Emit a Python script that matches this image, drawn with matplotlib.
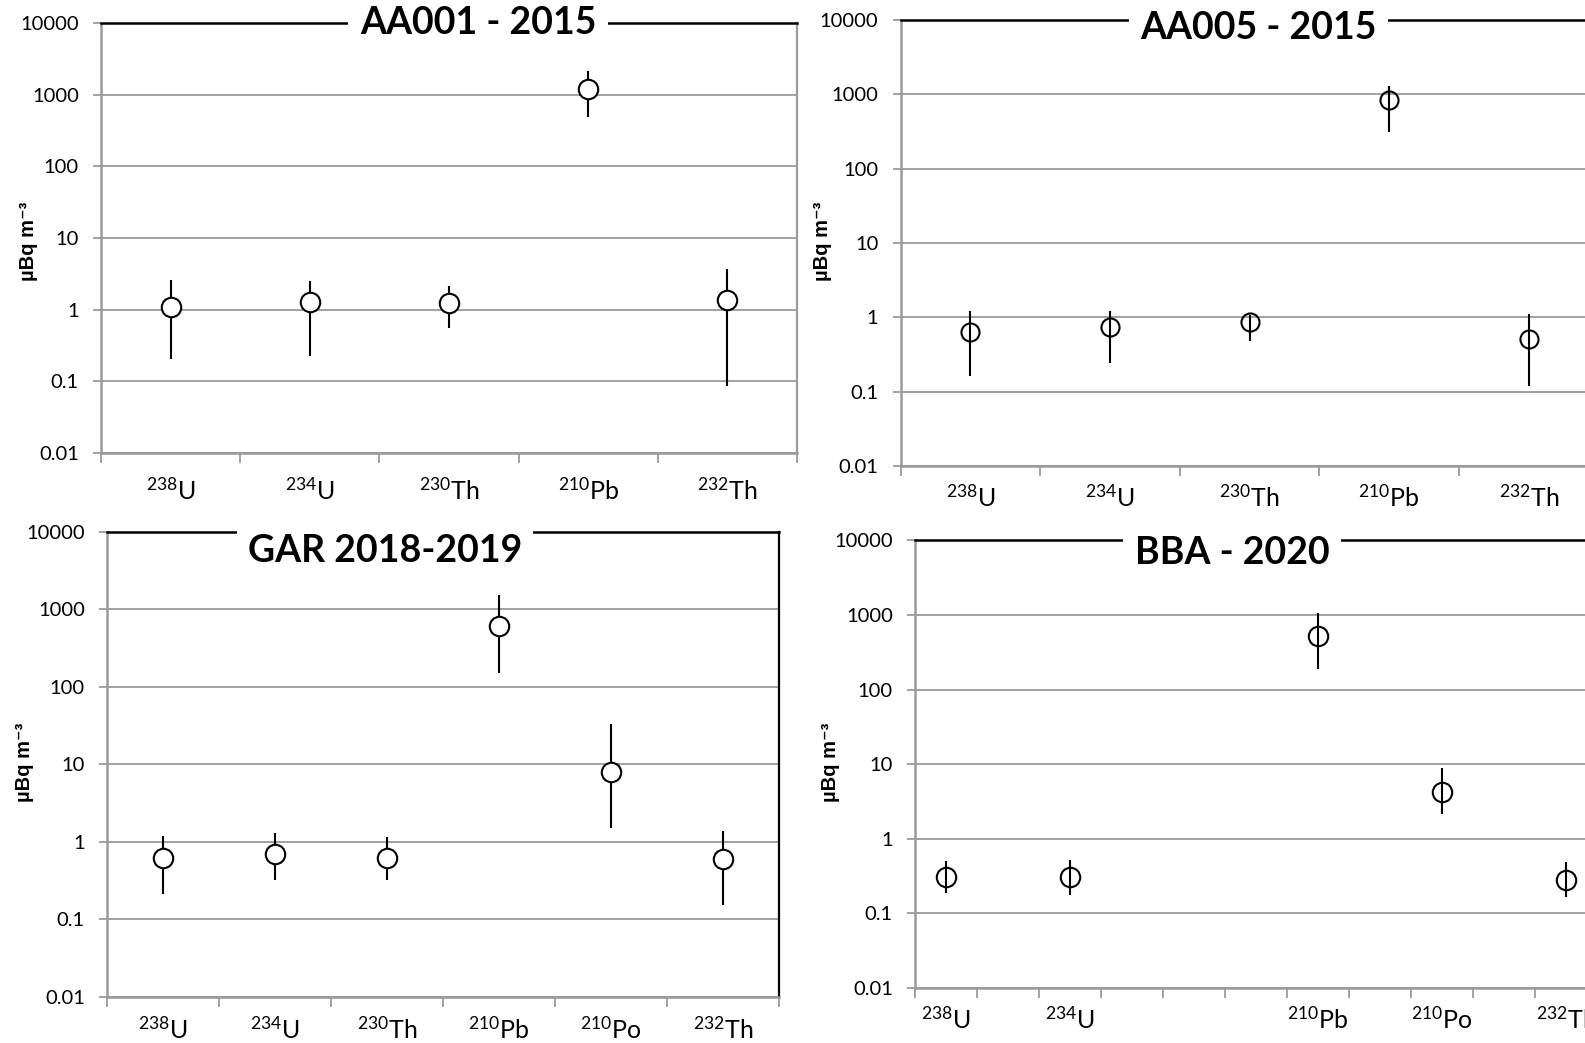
import numpy as np
import matplotlib
matplotlib.use('Agg')
import matplotlib.pyplot as plt

plt.rcParams['font.family'] = ['Lato', 'DejaVu Sans']
plt.rcParams['mathtext.fontset'] = 'custom'
plt.rcParams['mathtext.rm'] = 'Lato'
plt.rcParams['mathtext.it'] = 'Lato:italic'
plt.rcParams['mathtext.bf'] = 'Lato:bold'

nan = np.nan

# ---------------- data ----------------
y_ticks = [0.01, 0.1, 1, 10, 100, 1000, 10000]
y_ticklabels = ['0.01', '0.1', '1', '10', '100', '1000', '10000']
ylabel_text = 'µBq m⁻³'

aa001_title = 'AA001 - 2015'
aa001_labels = [r'$^{238}$U', r'$^{234}$U', r'$^{230}$Th', r'$^{210}$Pb', r'$^{232}$Th']
aa001_val = [1.10, 1.29, 1.23, 1188, 1.36]
aa001_lo = [0.205, 0.226, 0.56, 493, 0.086]
aa001_hi = [2.6, 2.55, 2.14, 2140, 3.66]

aa005_title = 'AA005 - 2015'
aa005_labels = [r'$^{238}$U', r'$^{234}$U', r'$^{230}$Th', r'$^{210}$Pb', r'$^{232}$Th']
aa005_val = [0.635, 0.74, 0.855, 839, 0.516]
aa005_lo = [0.165, 0.242, 0.484, 314, 0.12]
aa005_hi = [1.2, 1.2, 1.09, 1294, 1.10]

gar_title = 'GAR 2018-2019'
gar_labels = [r'$^{238}$U', r'$^{234}$U', r'$^{230}$Th', r'$^{210}$Pb', r'$^{210}$Po', r'$^{232}$Th']
gar_val = [0.618, 0.69, 0.618, 606, 8.02, 0.594]
gar_lo = [0.212, 0.316, 0.316, 149, 1.52, 0.152]
gar_hi = [1.20, 1.31, 1.14, 1538, 33.2, 1.38]

bba_title = 'BBA - 2020'
bba_labels = [r'$^{238}$U', '', r'$^{234}$U', '', '', '', r'$^{210}$Pb', '', r'$^{210}$Po', '', r'$^{232}$Th', '']
bba_val = [0.307, nan, 0.307, nan, nan, nan, 522, nan, 4.18, nan, 0.282, nan]
bba_lo = [0.187, nan, 0.174, nan, nan, nan, 189, nan, 2.14, nan, 0.165, nan]
bba_hi = [0.50, nan, 0.52, nan, nan, nan, 1054, nan, 8.9, nan, 0.481, nan]

# ---------------- layout ----------------
W, H = 1585, 1043
fig = plt.figure(figsize=(W / 100, H / 100), dpi=100)
fig.patch.set_facecolor('white')

GRID = '#9a9a9a'


def rect(l, r, t, b):
    return [l / W, 1 - b / H, (r - l) / W, (b - t) / H]


def panel(box, labels, val, lo, hi, title, title_xy, ylab_xy, ms, face,
          right_color, xpad):
    ax = fig.add_axes(rect(*box))
    n = len(labels)
    ax.set_yscale('log')
    ax.set_ylim(0.01, 10000)
    ax.set_xlim(-0.5, n - 0.5)
    ax.set_facecolor('none')
    ax.yaxis.grid(True, color=GRID, lw=1.3, zorder=0)
    ax.set_axisbelow(True)
    ax.set_yticks(y_ticks)
    ax.set_yticklabels(y_ticklabels)
    ax.yaxis.set_minor_locator(matplotlib.ticker.NullLocator())
    ax.tick_params(axis='y', which='major', length=6, width=1.3, color=GRID,
                   labelsize=14.5, pad=10)
    ax.set_xticks(np.arange(n))
    ax.set_xticklabels(labels)
    ax.set_xticks(np.arange(n + 1) - 0.5, minor=True)
    ax.tick_params(axis='x', which='major', length=0, labelsize=18, pad=xpad)
    ax.tick_params(axis='x', which='minor', length=7, width=1.3, color=GRID)
    for s in ['left', 'bottom']:
        ax.spines[s].set_color(GRID)
        ax.spines[s].set_linewidth(1.8)
    ax.spines['right'].set_color(right_color)
    ax.spines['right'].set_linewidth(1.6)
    ax.spines['top'].set_color('black')
    ax.spines['top'].set_linewidth(1.8)

    v = np.array(val, dtype=float)
    l = np.array(lo, dtype=float)
    h = np.array(hi, dtype=float)
    x = np.arange(n)
    ax.errorbar(x, v, yerr=[v - l, h - v], fmt='none', ecolor='black',
                elinewidth=1.5, capsize=0, zorder=3)
    ax.plot(x, v, 'o', ms=ms, mfc=face, mec='black', mew=1.5, zorder=4,
            linestyle='none')

    fig.text(title_xy[0] / W, 1 - title_xy[1] / H, title, ha='center',
             va='center', fontsize=27, fontweight='bold',
             bbox=dict(boxstyle='square,pad=0.3', fc='white', ec='none'),
             zorder=10)
    fig.text(ylab_xy[0] / W, 1 - ylab_xy[1] / H, ylabel_text, rotation=90,
             ha='center', va='center', fontsize=14.5, fontweight='bold',
             family=['Liberation Sans', 'DejaVu Sans'])
    return ax


panel((101, 797, 23, 453), aa001_labels, aa001_val, aa001_lo, aa001_hi,
      aa001_title, (478, 23), (29, 241), 14, 'white', GRID, 17)
panel((900.5, 1598.5, 20, 466), aa005_labels, aa005_val, aa005_lo, aa005_hi,
      aa005_title, (1258, 28), (823, 241), 13, 'none', GRID, 13)
panel((107, 779, 532, 996.5), gar_labels, gar_val, gar_lo, gar_hi,
      gar_title, (385, 551), (25, 762), 14, 'white', 'black', 14)
panel((915, 1659, 540.3, 988), bba_labels, bba_val, bba_lo, bba_hi,
      bba_title, (1232, 553), (831, 762), 14, 'none', GRID, 13)

fig.savefig('out.png', dpi=100, facecolor='white')
